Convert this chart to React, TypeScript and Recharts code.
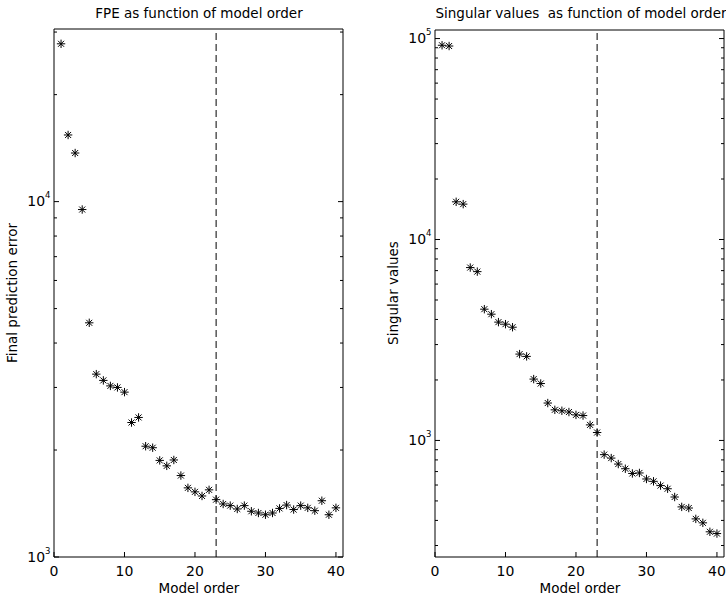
import React from "react";
import { ScatterChart, Scatter, XAxis, YAxis, ReferenceLine } from "recharts";

const modelOrder = [
  1, 2, 3, 4, 5, 6, 7, 8, 9, 10, 11, 12, 13, 14, 15, 16, 17, 18, 19, 20,
  21, 22, 23, 24, 25, 26, 27, 28, 29, 30, 31, 32, 33, 34, 35, 36, 37, 38, 39, 40,
];

const fpe = [
  27800, 15400, 13700, 9500, 4560, 3270, 3140, 3030, 3000, 2910,
  2390, 2470, 2050, 2030, 1870, 1805, 1875, 1695, 1565, 1525,
  1485, 1545, 1450, 1410, 1395, 1365, 1395, 1345, 1330, 1315,
  1330, 1370, 1400, 1360, 1395, 1375, 1350, 1440, 1315, 1375,
];

const singularValues = [
  92600, 91800, 15400, 15000, 7250, 6920, 4500, 4250, 3880, 3790,
  3660, 2690, 2620, 2020, 1920, 1535, 1420, 1405, 1385, 1340,
  1330, 1195, 1095, 850, 817, 763, 723, 685, 689, 643,
  626, 596, 575, 523, 467, 461, 407, 389, 351, 344,
];

const xTicks = [0, 10, 20, 30, 40];
const xDomain = [0, 41];
const selectedOrder = 23;

const fpeDomain = [1000, 30600];
const fpeMajorTicks = [1000, 10000];
const fpeMinorTicks = [2000, 3000, 4000, 5000, 6000, 7000, 8000, 9000, 20000, 30000];

const svDomain = [263, 110300];
const svMajorTicks = [1000, 10000, 100000];
const svMinorTicks = [
  300, 400, 500, 600, 700, 800, 900,
  2000, 3000, 4000, 5000, 6000, 7000, 8000, 9000,
  20000, 30000, 40000, 50000, 60000, 70000, 80000, 90000,
];

const FONT = "'DejaVu Sans', sans-serif";

function Asterisk(props: any) {
  const { cx, cy } = props;
  const r = 4.2;
  const d = 3;
  return (
    <path
      d={`M${cx - r},${cy}H${cx + r}M${cx},${cy - r}V${cy + r}M${cx - d},${cy - d}L${cx + d},${cy + d}M${cx - d},${cy + d}L${cx + d},${cy - d}`}
      stroke="#000"
      strokeWidth={1}
      fill="none"
    />
  );
}

function makeYTick(side: "left" | "right", majors: number[]) {
  return (props: any) => {
    const { x, y, payload } = props;
    const v = payload.value;
    const major = majors.includes(v);
    const len = major ? 5 : 3;
    const dir = side === "left" ? 1 : -1;
    return (
      <g>
        <line x1={x} x2={x + dir * len} y1={y} y2={y} stroke="#000" />
        {major && side === "left" && (
          <text x={x - 3.5} y={y + 4.5} textAnchor="end" fontSize={14} fontFamily={FONT} fill="#000">
            10
            <tspan dy={-8} fontSize={8.5}>
              {Math.round(Math.log10(v))}
            </tspan>
          </text>
        )}
      </g>
    );
  };
}

function makeXTick(side: "bottom" | "top") {
  return (props: any) => {
    const { x, y, payload } = props;
    const dir = side === "bottom" ? -1 : 1;
    return (
      <g>
        <line x1={x} x2={x} y1={y} y2={y + dir * 5} stroke="#000" />
        {side === "bottom" && (
          <text x={x} y={y + 19} textAnchor="middle" fontSize={14} fontFamily={FONT} fill="#000">
            {payload.value}
          </text>
        )}
      </g>
    );
  };
}

function LogPanel({
  values,
  domain,
  majors,
  minors,
  leftWidth,
  rightWidth,
  topHeight,
}: {
  values: number[];
  domain: number[];
  majors: number[];
  minors: number[];
  leftWidth: number;
  rightWidth: number;
  topHeight: number;
}) {
  const data = modelOrder.map((n, i) => ({ order: n, value: values[i] }));
  const yTicks = [...majors, ...minors].sort((a, b) => a - b);
  return (
    <ScatterChart width={363} height={598} margin={{ top: 0, right: 0, bottom: 0, left: 0 }}>
      <XAxis
        xAxisId="b"
        dataKey="order"
        type="number"
        domain={xDomain}
        ticks={xTicks}
        interval={0}
        orientation="bottom"
        height={41}
        tickSize={0}
        tickMargin={0}
        tickLine={false}
        axisLine={{ stroke: "#000" }}
        tick={makeXTick("bottom")}
        allowDataOverflow
      />
      <XAxis
        xAxisId="t"
        type="number"
        domain={xDomain}
        ticks={xTicks}
        interval={0}
        orientation="top"
        height={topHeight}
        tickSize={0}
        tickMargin={0}
        tickLine={false}
        axisLine={{ stroke: "#000" }}
        tick={makeXTick("top")}
        allowDataOverflow
      />
      <YAxis
        yAxisId="l"
        dataKey="value"
        type="number"
        scale="log"
        domain={domain}
        ticks={yTicks}
        interval={0}
        orientation="left"
        width={leftWidth}
        tickSize={0}
        tickMargin={0}
        tickLine={false}
        axisLine={{ stroke: "#000" }}
        tick={makeYTick("left", majors)}
        allowDataOverflow
      />
      <YAxis
        yAxisId="r"
        type="number"
        scale="log"
        domain={domain}
        ticks={yTicks}
        interval={0}
        orientation="right"
        width={rightWidth}
        tickSize={0}
        tickMargin={0}
        tickLine={false}
        axisLine={{ stroke: "#000" }}
        tick={makeYTick("right", majors)}
        allowDataOverflow
      />
      <ReferenceLine
        xAxisId="b"
        yAxisId="l"
        x={selectedOrder}
        stroke="#000"
        strokeDasharray="7 4"
      />
      <Scatter xAxisId="b" yAxisId="l" data={data} shape={Asterisk} isAnimationActive={false} />
    </ScatterChart>
  );
}

export default function App() {
  const textStyle = { fontFamily: FONT, fontSize: 13.5, fill: "#000" };
  return (
    <div style={{ position: "absolute", left: 0, top: 0, width: 726, height: 598, background: "#fff" }}>
      <div style={{ position: "absolute", left: 0, top: 0 }}>
        <LogPanel
          values={fpe}
          domain={fpeDomain}
          majors={fpeMajorTicks}
          minors={fpeMinorTicks}
          leftWidth={54}
          rightWidth={20}
          topHeight={29}
        />
      </div>
      <div style={{ position: "absolute", left: 363, top: 0 }}>
        <LogPanel
          values={singularValues}
          domain={svDomain}
          majors={svMajorTicks}
          minors={svMinorTicks}
          leftWidth={72}
          rightWidth={2}
          topHeight={30}
        />
      </div>
      <svg width={726} height={598} style={{ position: "absolute", left: 0, top: 0, pointerEvents: "none" }}>
        <text x={199} y={18} textAnchor="middle" style={textStyle}>
          FPE as function of model order
        </text>
        <text x={581} y={18} textAnchor="middle" style={textStyle} xmlSpace="preserve">
          Singular values  as function of model order
        </text>
        <text x={199} y={593} textAnchor="middle" style={textStyle}>
          Model order
        </text>
        <text x={580} y={593} textAnchor="middle" style={textStyle}>
          Model order
        </text>
        <text transform="translate(16.5,293) rotate(-90)" textAnchor="middle" style={textStyle}>
          Final prediction error
        </text>
        <text transform="translate(397.5,293) rotate(-90)" textAnchor="middle" style={textStyle}>
          Singular values
        </text>
      </svg>
    </div>
  );
}
